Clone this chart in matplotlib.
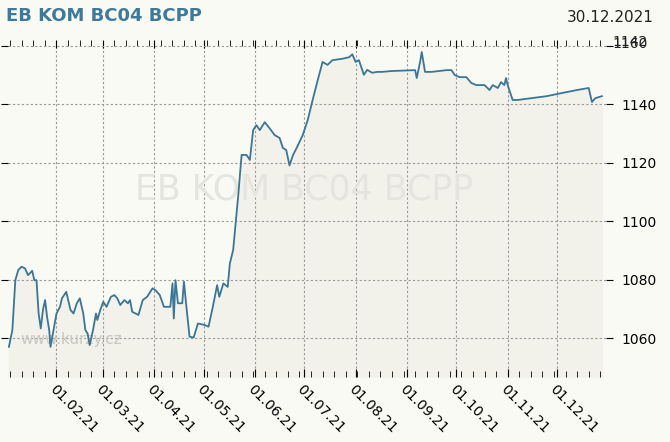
import numpy as np
import pandas as pd
import matplotlib
matplotlib.use('Agg')
import matplotlib.pyplot as plt
import matplotlib.dates as mdates

TITLE = 'EB KOM BC04 BCPP'
LAST_DATE = '30.12.2021'
LAST_VALUE = '1142'

# day offset from 1 Jan 2021, price
days = [2.2, 4.3, 6.1, 7.9, 9.9, 12.0, 13.8, 16.3, 17.6, 18.9, 20.2, 21.5, 22.8, 24.1, 25.3, 26.6, 27.4, 29.2,
        31, 33.1, 34.3, 36.9, 39.5, 41.3, 43.3, 45.1, 47.2, 48.5, 49.8, 51.1, 53.1, 54.9, 55.7, 57.5, 59.3, 61.3,
        63.9, 66.0, 67.8, 69.6, 72.1, 74.2, 75.5, 76.8, 80.6, 83.2, 85.8, 89.1, 90.9, 93.5, 96.0, 99.9, 101.2,
        102.0, 103.0, 104.5, 107.1, 108.1, 109.4, 111.5, 114.0, 116.6, 120.5, 123.0, 125.6, 128.2, 129.5, 132.0,
        134.6, 135.9, 137.9, 141, 143, 146, 148, 150, 152, 154, 157, 160, 163, 166, 168, 170, 172, 174, 177,
        180, 183, 186, 189, 192, 195, 198, 204, 208, 210, 212, 214, 217, 219, 222, 225, 228, 234, 243, 248, 249,
        251, 252, 254, 258, 267, 270, 272, 275, 279, 282, 285, 290, 293, 295, 298, 300, 302, 303, 304, 307, 310,
        318, 327.6, 337, 346, 353, 355, 357, 361]
prices = [1057.0, 1062.7, 1079.8, 1083.3, 1084.4, 1083.8, 1081.5, 1083.0, 1079.8, 1079.8, 1068.4, 1063.3, 1069.6,
          1073.0, 1067.3, 1062.7, 1057.0, 1062.7, 1068.4, 1070.7, 1073.6, 1075.8, 1069.6, 1068.4, 1071.9, 1073.6,
          1068.4, 1062.7, 1061.6, 1057.6, 1062.7, 1068.4, 1066.2, 1069.6, 1072.4, 1070.7, 1074.1, 1074.7, 1073.6,
          1071.3, 1073.0, 1071.9, 1073.0, 1069.0, 1067.9, 1073.0, 1074.1, 1077.0, 1076.4, 1074.7, 1070.7, 1070.7,
          1078.7, 1066.7, 1079.8, 1071.9, 1071.9, 1079.3, 1071.9, 1060.5, 1060.2, 1065.0, 1064.5, 1063.9, 1070.7,
          1078.1, 1074.1, 1078.7, 1077.5, 1085.5, 1090.1, 1108.9, 1122.6, 1122.6, 1120.9, 1131.1, 1132.8, 1131.1,
          1133.8, 1131.7, 1129.4, 1128.4, 1125.0, 1124.3, 1119.0, 1122.4, 1125.8, 1129.4, 1134.5, 1141.4, 1148.0,
          1154.4, 1153.4, 1155.0, 1155.5, 1156.0, 1157.0, 1154.4, 1155.0, 1150.0, 1151.7, 1150.7, 1151.0, 1151.0,
          1151.3, 1151.5, 1151.6, 1148.9, 1154.4, 1157.8, 1151.0, 1151.0, 1151.6, 1151.6, 1149.9, 1149.2, 1149.2,
          1147.2, 1146.5, 1146.5, 1144.8, 1146.5, 1145.5, 1147.5, 1146.5, 1148.9, 1146.5, 1141.4, 1141.4, 1142.0,
          1142.7, 1143.8, 1144.8, 1145.5, 1140.7, 1142.0, 1142.7]

dates = pd.Timestamp('2021-01-01') + pd.to_timedelta(days, unit='D')
bg = '#fafaf5'
fig = plt.figure(figsize=(6.7, 4.42), dpi=100, facecolor=bg)
ax = fig.add_axes([8 / 670, 1 - 377 / 442, 598 / 670, 337 / 442])
ax.set_facecolor(bg)
ymin, ymax = 1046.7, 1161.9
ax.fill_between(dates, prices, ymin, color='#f2f2ea', zorder=1)
ax.plot(dates, prices, color='#3a7697', lw=1.3, zorder=3)
ax.set_ylim(ymin, ymax)
ax.set_xlim(pd.Timestamp('2021-01-02 16:00'), pd.Timestamp('2021-12-30 12:00'))

ax.xaxis.set_major_locator(mdates.MonthLocator(bymonth=range(2, 13)))
ax.xaxis.set_major_formatter(mdates.DateFormatter('%d.%m.%y'))
ax.xaxis.set_minor_locator(mdates.WeekdayLocator(byweekday=mdates.MO))
ax.set_yticks([1060, 1080, 1100, 1120, 1140, 1160])
ax.set_yticklabels(['1060', '1080', '1100', '1120', '1140', ''])
ax.yaxis.tick_right()
ax.tick_params(axis='y', which='both', left=True, right=True, length=5, labelsize=10, pad=6)
ax.tick_params(axis='x', which='major', top=True, bottom=True, length=6, labelsize=10, direction='in')
ax.tick_params(axis='x', which='minor', top=True, bottom=True, length=4, direction='in')
for lab in ax.get_xticklabels():
    lab.set_rotation(-45)
    lab.set_ha('left')
    lab.set_va('top')
    lab.set_rotation_mode('anchor')
ax.grid(True, which='major', color='#999999', ls=(0, (2, 2)), lw=0.8, zorder=2)
for s in ax.spines.values():
    s.set_visible(False)

ax.text(0.495, 0.555, TITLE, transform=ax.transAxes, ha='center', va='center', fontsize=25, color='#e5e5df', zorder=2)
ax.text(0.02, 0.11, 'www.kurzy.cz', transform=ax.transAxes, ha='left', va='center', fontsize=11, color='#c8c8c2', zorder=2)
fig.text(6 / 670, 1 - 16 / 442, TITLE, ha='left', va='center', fontsize=13, color='#3d7a9a', fontweight='bold')
fig.text(654 / 670, 1 - 17 / 442, LAST_DATE, ha='right', va='center', fontsize=11, color='#222222')
fig.text(612 / 670, 1 - 44 / 442, '1160', ha='left', va='center', fontsize=10, color='#222222')
fig.text(612 / 670, 1 - 42 / 442, LAST_VALUE, ha='left', va='center', fontsize=10, color='#222222')
fig.savefig('out.png', facecolor=bg)
